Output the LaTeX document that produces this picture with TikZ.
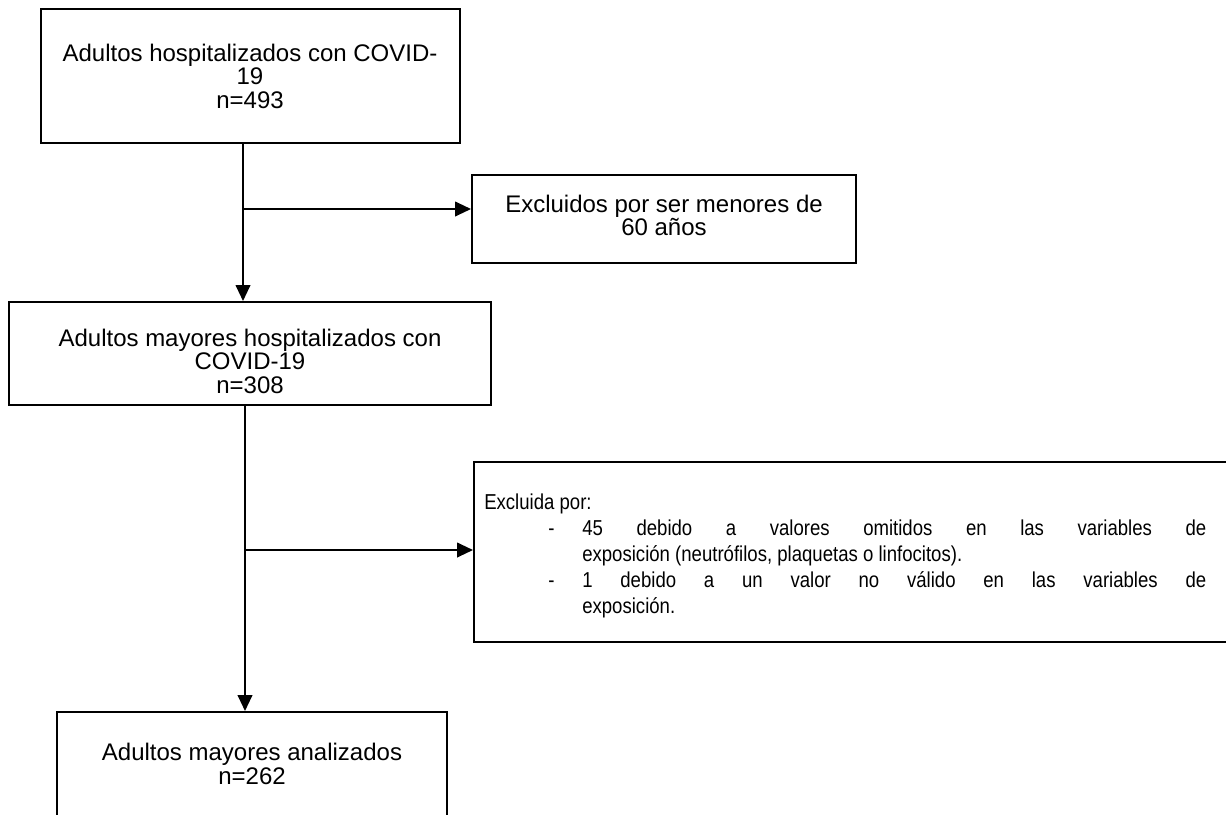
\documentclass[tikz,border=0pt]{standalone}
\usepackage{fontspec}
\setmainfont{Liberation Sans}
\newfontfamily\narrowfont{Liberation Sans}[FakeStretch=0.86]
\usetikzlibrary{arrows.meta}
\begin{document}
\begin{tikzpicture}[x=0.75pt,y=-0.75pt,
  boxnode/.style={draw=black, line width=1.5pt, rectangle, inner sep=0pt},
  conn/.style={line width=1.5pt, -{Triangle[length=12pt,width=11pt]}},
  bigtxt/.style={font=\fontsize{18pt}{17.5pt}\selectfont, align=center, inner sep=0pt, anchor=north},
  smalltxt/.style={font=\narrowfont\fontsize{16.2pt}{19.5pt}\selectfont, inner sep=0pt, anchor=base west}
]
\useasboundingbox (0,0) rectangle (1226,814);
\clip (0,0) rectangle (1226,814);

% boxes
\node[boxnode, minimum width=314.25pt, minimum height=100.5pt] (b1) at (250.5,76) {};
\node[boxnode, minimum width=288pt, minimum height=66pt] (e1) at (664,219) {};
\node[boxnode, minimum width=361.5pt, minimum height=77.25pt] (b2) at (250,353.5) {};
\node[boxnode, minimum width=574.5pt, minimum height=135pt] (e2) at (857,552) {};
\node[boxnode, minimum width=292.5pt, minimum height=96pt] (b4) at (252,776) {};

% texts
\node[bigtxt] (t1) at (250,44) {Adultos hospitalizados con COVID-\\19\\n=493};
\node[bigtxt] (te1) at (664,195) {Excluidos por ser menores de\\60 años};
\node[bigtxt] (t2) at (250,329) {Adultos mayores hospitalizados con\\COVID-19\\n=308};
\node[bigtxt] (t4) at (252,743) {Adultos mayores analizados\\n=262};

\node[smalltxt] (te2) at (484,509) {Excluida por:};
\node[smalltxt] (d1) at (548,535) {-};
\node[smalltxt, text width=468pt, align=justify] (x1) at (582,535)
  {45 debido a valores omitidos en las variables de\linebreak exposición (neutrófilos, plaquetas o linfocitos).};
\node[smalltxt] (d2) at (548,587) {-};
\node[smalltxt, text width=468pt, align=justify] (x2) at (582,587)
  {1 debido a un valor no válido en las variables de\linebreak exposición.};

% connectors
\coordinate (v1) at (243,0);
\coordinate (v2) at (245,0);
\coordinate (j1) at (243,209);
\coordinate (j2) at (245,550);
\draw[conn] (b1.south -| v1) -- (b2.north -| v1);
\draw[conn] (j1) -- (j1 -| e1.west);
\draw[conn] (b2.south -| v2) -- (b4.north -| v2);
\draw[conn] (j2) -- (j2 -| e2.west);
\end{tikzpicture}
\end{document}
